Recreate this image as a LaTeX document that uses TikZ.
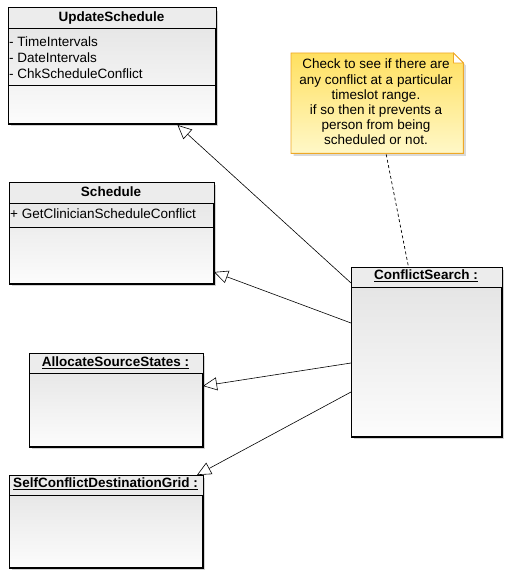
\documentclass[tikz,border=0pt]{standalone}
\usepackage{fontspec}
\setmainfont{Liberation Sans}
\usetikzlibrary{arrows.meta,shadows,calc}
\definecolor{boxtop}{RGB}{226,226,226}
\definecolor{boxbot}{RGB}{252,252,252}
\definecolor{hdr}{RGB}{236,236,236}
\definecolor{notetop}{RGB}{255,224,96}
\definecolor{notebot}{RGB}{255,248,200}
\definecolor{noteborder}{RGB}{238,168,40}
\begin{document}
\begin{tikzpicture}[x=1pt,y=-1pt,
  classbox/.style={draw=black, line width=1pt, top color=boxtop, bottom color=boxbot,
    drop shadow={opacity=0.35,shadow xshift=2.5pt,shadow yshift=-2.5pt},
    anchor=north west, inner sep=0pt},
  hdrfill/.style={fill=hdr},
  border/.style={draw=black, line width=1pt},
  sep/.style={draw=black, line width=1pt},
  txt/.style={font=\fontsize{13.5}{16}\selectfont, inner sep=0pt},
  ttl/.style={font=\fontsize{13.5}{16}\selectfont\bfseries, inner sep=0pt},
  attr/.style={txt, anchor=west},
  gen/.style={draw=black, line width=0.6pt, -{Triangle[open,length=14pt,width=13pt,fill=white,line width=0.6pt]}},
  notelink/.style={draw=black, line width=0.7pt, dash pattern=on 3pt off 2.5pt}
]
\useasboundingbox (0,0) rectangle (516,583);

% UpdateSchedule
\node[classbox, minimum width=207pt, minimum height=115pt] (us) at (8,8) {};
\fill[hdrfill] (us.north west) rectangle ($(us.north east)+(0,21)$);
\draw[sep] ($(us.north west)+(0,21)$) -- ($(us.north east)+(0,21)$);
\draw[sep] ($(us.north west)+(0,78)$) -- ($(us.north east)+(0,78)$);
\draw[border] (us.north west) rectangle (us.south east);
\node[ttl] (ust) at (111.5,18) {UpdateSchedule};
\node[attr] (usa1) at (9,41.5) {- TimeIntervals};
\node[attr] (usa2) at (9,57.5) {- DateIntervals};
\node[attr] (usa3) at (9,73.5) {- ChkScheduleConflict};

% Schedule
\node[classbox, minimum width=204pt, minimum height=101pt] (sc) at (9,182) {};
\fill[hdrfill] (sc.north west) rectangle ($(sc.north east)+(0,21)$);
\draw[sep] ($(sc.north west)+(0,21)$) -- ($(sc.north east)+(0,21)$);
\draw[sep] ($(sc.north west)+(0,45)$) -- ($(sc.north east)+(0,45)$);
\draw[border] (sc.north west) rectangle (sc.south east);
\node[ttl] (sct) at (111,191.5) {Schedule};
\node[attr] (sca1) at (10,214) {+ GetClinicianScheduleConflict};

% AllocateSourceStates
\node[classbox, minimum width=173pt, minimum height=93pt] (as) at (29,353) {};
\fill[hdrfill] (as.north west) rectangle ($(as.north east)+(0,20)$);
\draw[sep] ($(as.north west)+(0,20)$) -- ($(as.north east)+(0,20)$);
\draw[border] (as.north west) rectangle (as.south east);
\node[ttl] (ast) at (115.5,362.5) {\underline{AllocateSourceStates :}};

% SelfConflictDestinationGrid
\node[classbox, minimum width=193pt, minimum height=92pt] (sd) at (9,475) {};
\fill[hdrfill] (sd.north west) rectangle ($(sd.north east)+(0,20)$);
\draw[sep] ($(sd.north west)+(0,20)$) -- ($(sd.north east)+(0,20)$);
\draw[border] (sd.north west) rectangle (sd.south east);
\node[ttl] (sdt) at (105.5,484) {\underline{SelfConflictDestinationGrid :}};

% ConflictSearch
\node[classbox, minimum width=150pt, minimum height=169pt] (cs) at (351,267) {};
\fill[hdrfill] (cs.north west) rectangle ($(cs.north east)+(0,20)$);
\draw[sep] ($(cs.north west)+(0,20)$) -- ($(cs.north east)+(0,20)$);
\draw[border] (cs.north west) rectangle (cs.south east);
\node[ttl] (cst) at (426,276) {\underline{ConflictSearch :}};

% Note
\node[minimum width=172pt, minimum height=100pt, anchor=north west, inner sep=0pt] (note) at (291,53) {};
\path[drop shadow={opacity=0.3,shadow xshift=2.5pt,shadow yshift=-2.5pt}, top color=notetop, bottom color=notebot, draw=noteborder, line width=0.9pt]
  (note.north west) -- ($(note.north east)+(-10,0)$) -- ($(note.north east)+(0,10)$) -- (note.south east) -- (note.south west) -- cycle;
\draw[draw=noteborder, fill=white, line width=0.7pt] ($(note.north east)+(-10,0)$) -- ($(note.north east)+(-10,10)$) -- ($(note.north east)+(0,10)$) -- cycle;
\node[txt, align=center, font=\fontsize{13.5}{15.2}\selectfont] (notet) at (376,102) {Check to see if there are\\any conflict at a particular\\timeslot range.\\if so then it prevents a\\person from being\\scheduled or not.};

% connectors
\draw[gen] ($(cs.north west)+(0,16)$) -- ($(us.south)+(65.5,1)$);
\draw[gen] ($(cs.north west)+(0,56)$) -- ($(sc.south east)+(0,-12)$);
\draw[gen] ($(cs.north west)+(0,96)$) -- ($(as.north east)+(0,33)$);
\draw[gen] ($(cs.north west)+(0,125)$) -- ($(sd.north east)+(-6,0)$);
\draw[notelink] ($(note.south)+(9,1)$) -- ($(cs.north)+(-18,0)$);
\end{tikzpicture}
\end{document}
